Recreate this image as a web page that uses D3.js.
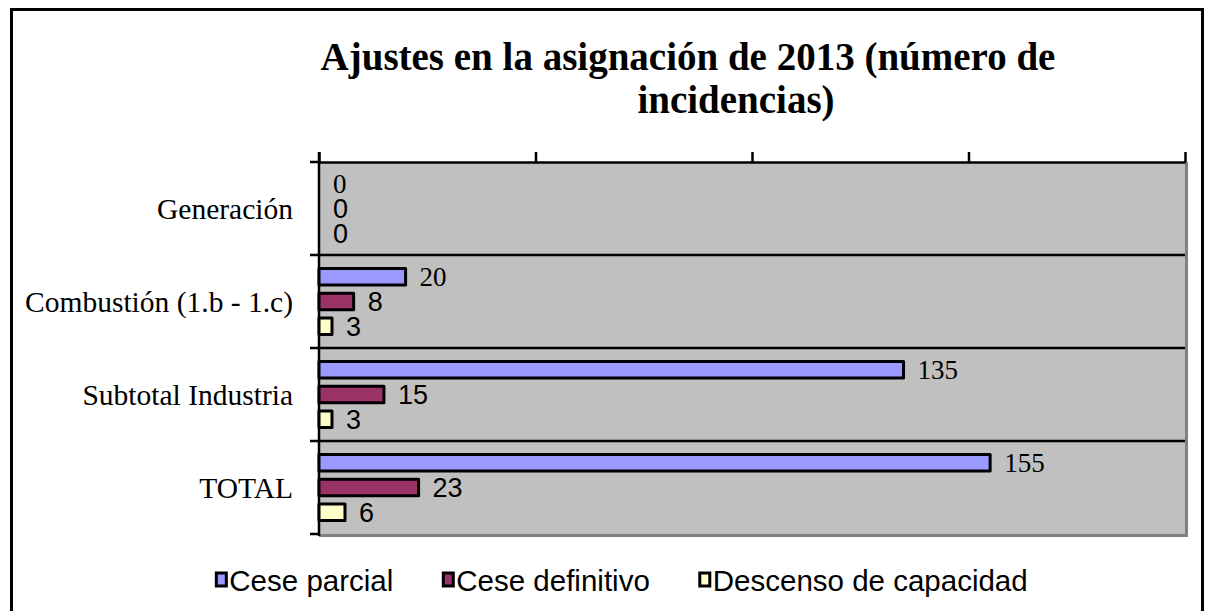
<!DOCTYPE html>
<html>
<head>
<meta charset="utf-8">
<script src="https://cdn.jsdelivr.net/npm/d3@7"></script>
<style>
  html, body { margin: 0; padding: 0; background: #ffffff; }
  svg { display: block; }
</style>
</head>
<body>
<svg id="chart" width="1205" height="611"></svg>
<script>
// ---- data ----
const categories = ["Generación", "Combustión (1.b - 1.c)", "Subtotal Industria", "TOTAL"];
const seriesNames = ["Cese parcial", "Cese definitivo", "Descenso de capacidad"];
const ceseParcial = [0, 20, 135, 155];
const ceseDefinitivo = [0, 8, 15, 23];
const descensoCapacidad = [0, 3, 3, 6];
const valueTicks = [0, 50, 100, 150, 200];
const titleLines = ["Ajustes en la asignación de 2013 (número de", "incidencias)"];

// ---- styles ----
const seriesColors = ["#9999FF", "#993366", "#FFFFCC"];
const labelFonts = ["'Liberation Serif', 'Times New Roman', serif", "'Liberation Sans', Arial, sans-serif", "'Liberation Sans', Arial, sans-serif"];
const seriesValues = [ceseParcial, ceseDefinitivo, descensoCapacidad];

const svg = d3.select("#chart");
const plot = { left: 319, right: 1185, top: 162, bottom: 534 };

// outer chart border
svg.append("rect").attr("x", 11.5).attr("y", 9.5).attr("width", 1191).attr("height", 700)
  .attr("fill", "#ffffff").attr("stroke", "#000000").attr("stroke-width", 3);

// title
svg.append("text").attr("x", 688).attr("y", 70)
  .attr("text-anchor", "middle")
  .attr("font-family", "'Liberation Serif', 'Times New Roman', serif")
  .attr("font-weight", "bold").attr("font-size", 39)
  .text(titleLines[0]);
svg.append("text").attr("x", 736).attr("y", 113)
  .attr("text-anchor", "middle")
  .attr("font-family", "'Liberation Serif', 'Times New Roman', serif")
  .attr("font-weight", "bold").attr("font-size", 39)
  .text(titleLines[1]);

// scales
const x = d3.scaleLinear().domain([0, 200]).range([plot.left, plot.right]);
const y = d3.scaleBand().domain(categories).range([plot.top, plot.bottom]).padding(0);
const yInner = d3.scaleBand().domain(seriesNames).range([0, y.bandwidth()])
  .paddingInner(0.34).paddingOuter(0.55);

// plot area background + shadow border
svg.append("rect").attr("x", plot.left).attr("y", plot.top)
  .attr("width", plot.right - plot.left).attr("height", plot.bottom - plot.top)
  .attr("fill", "#C0C0C0");
svg.append("path")
  .attr("d", `M${plot.right + 1.5},${plot.top} V${plot.bottom + 1.5} H${plot.left}`)
  .attr("fill", "none").attr("stroke", "#808080").attr("stroke-width", 3);

// category gridlines (between categories)
categories.slice(1).forEach(c => {
  svg.append("line").attr("x1", plot.left).attr("x2", plot.right)
    .attr("y1", y(c)).attr("y2", y(c))
    .attr("stroke", "#000").attr("stroke-width", 2.5);
});

// value axis on top (no labels)
const xAxis = d3.axisTop(x).tickValues(valueTicks).tickFormat("").tickSize(10).tickSizeOuter(0);
const gx = svg.append("g").attr("transform", `translate(0,${plot.top})`).call(xAxis);
gx.select(".domain").attr("stroke", "#000").attr("stroke-width", 2.5);
gx.selectAll(".tick line").attr("stroke", "#000").attr("stroke-width", 2.5);

// category axis (left) with ticks at boundaries
svg.append("line").attr("x1", plot.left).attr("x2", plot.left)
  .attr("y1", plot.top - 10).attr("y2", plot.bottom + 2)
  .attr("stroke", "#000").attr("stroke-width", 2.5);
const bounds = categories.map(c => y(c)).concat([y(categories[categories.length - 1]) + y.bandwidth()]);
svg.selectAll(".ctick").data(bounds).enter().append("line")
  .attr("x1", plot.left - 9).attr("x2", plot.left)
  .attr("y1", d => d).attr("y2", d => d)
  .attr("stroke", "#000").attr("stroke-width", 2.5);

// category labels
svg.selectAll(".clabel").data(categories).enter().append("text")
  .attr("x", 293).attr("y", d => y(d) + y.bandwidth() / 2)
  .attr("dy", "0.36em").attr("text-anchor", "end")
  .attr("font-family", "'Liberation Serif', 'Times New Roman', serif")
  .attr("font-size", 29.5).text(d => d);

// bars
seriesNames.forEach((s, si) => {
  const vals = seriesValues[si];
  const g = svg.append("g");
  g.selectAll("rect").data(categories).enter().append("rect")
    .filter((c, i) => vals[i] > 0)
    .attr("x", x(0))
    .attr("y", c => y(c) + yInner(s))
    .attr("width", (c) => x(vals[categories.indexOf(c)]) - x(0))
    .attr("height", yInner.bandwidth())
    .attr("fill", seriesColors[si])
    .attr("stroke", "#000").attr("stroke-width", 3).attr("stroke-linejoin", "round");
  g.selectAll("text").data(categories).enter().append("text")
    .attr("x", (c, i) => x(vals[i]) + 14)
    .attr("y", c => y(c) + yInner(s) + yInner.bandwidth() / 2)
    .attr("dy", "0.35em")
    .attr("font-family", labelFonts[si])
    .attr("font-size", 27)
    .text((c, i) => vals[i]);
});

// legend
const legend = svg.append("g");
let lx = 0;
const gap = 50;
seriesNames.forEach((s, si) => {
  const it = legend.append("g");
  it.append("rect").attr("x", 0).attr("y", -7).attr("width", 10).attr("height", 13)
    .attr("fill", seriesColors[si]).attr("stroke", "#000").attr("stroke-width", 3);
  const t = it.append("text").attr("x", 13).attr("y", 0).attr("dy", "0.36em")
    .attr("font-family", "'Liberation Sans', Arial, sans-serif")
    .attr("font-size", 29.5).attr("letter-spacing", 0).text(s);
  const w = 13 + t.node().getComputedTextLength();
  it.attr("transform", `translate(${lx},0)`);
  lx += w + gap;
});
const totalW = lx - gap;
legend.attr("transform", `translate(${622 - totalW / 2},580)`);
</script>
</body>
</html>
